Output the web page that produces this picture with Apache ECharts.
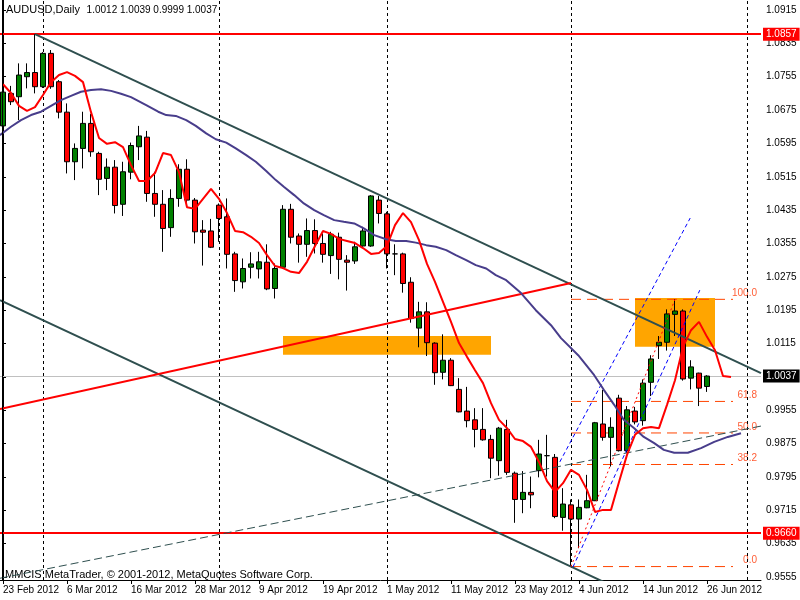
<!DOCTYPE html>
<html><head><meta charset="utf-8">
<script src="https://cdn.jsdelivr.net/npm/echarts@6/dist/echarts.min.js"></script>
<style>html,body{margin:0;padding:0;background:#fff}#c{width:800px;height:600px}</style>
</head><body><div id="c"></div>
<script>
// ---------- DATA ----------
const dates = ['23 Feb 2012','24 Feb 2012','27 Feb 2012','28 Feb 2012','29 Feb 2012',
 '1 Mar 2012','2 Mar 2012','5 Mar 2012','6 Mar 2012','7 Mar 2012','8 Mar 2012','9 Mar 2012','12 Mar 2012','13 Mar 2012','14 Mar 2012','15 Mar 2012','16 Mar 2012','19 Mar 2012','20 Mar 2012','21 Mar 2012','22 Mar 2012','23 Mar 2012','26 Mar 2012','27 Mar 2012','28 Mar 2012','29 Mar 2012','30 Mar 2012',
 '2 Apr 2012','3 Apr 2012','4 Apr 2012','5 Apr 2012','6 Apr 2012','9 Apr 2012','10 Apr 2012','11 Apr 2012','12 Apr 2012','13 Apr 2012','16 Apr 2012','17 Apr 2012','18 Apr 2012','19 Apr 2012','20 Apr 2012','23 Apr 2012','24 Apr 2012','25 Apr 2012','26 Apr 2012','27 Apr 2012','30 Apr 2012',
 '1 May 2012','2 May 2012','3 May 2012','4 May 2012','7 May 2012','8 May 2012','9 May 2012','10 May 2012','11 May 2012','14 May 2012','15 May 2012','16 May 2012','17 May 2012','18 May 2012','21 May 2012','22 May 2012','23 May 2012','24 May 2012','25 May 2012','28 May 2012','29 May 2012','30 May 2012','31 May 2012',
 '1 Jun 2012','4 Jun 2012','5 Jun 2012','6 Jun 2012','7 Jun 2012','8 Jun 2012','11 Jun 2012','12 Jun 2012','13 Jun 2012','14 Jun 2012','15 Jun 2012','18 Jun 2012','19 Jun 2012','20 Jun 2012','21 Jun 2012','22 Jun 2012','25 Jun 2012','26 Jun 2012'];
const opens  = [1.0637,1.0715,1.0707,1.0755,1.0765,1.0731,1.0811,1.0743,1.0670,1.0551,1.0583,1.0643,1.0571,1.0511,1.0538,1.0449,1.0526,1.0587,1.0610,1.0475,1.0449,1.0393,1.0463,1.0533,1.0459,1.0387,1.0385,1.0447,1.0419,1.0330,1.0263,1.0298,1.0294,1.0310,1.0247,1.0298,1.0437,1.0373,1.0353,1.0386,1.0355,1.0326,1.0370,1.0315,1.0313,1.0349,1.0349,1.0459,1.0426,1.0330,1.0330,1.0262,1.0152,1.0191,1.0116,1.0046,1.0075,1.0005,0.9953,0.9932,0.9909,0.9885,0.9834,0.9909,0.9804,0.9741,0.9758,0.9810,0.9846,0.9842,0.9698,0.9728,0.9694,0.9721,0.9738,0.9922,0.9890,0.9984,0.9858,0.9953,0.9930,1.0022,1.0110,1.0118,1.0185,1.0193,1.0032,1.0044,1.0012];
const highs  = [1.0723,1.0733,1.0787,1.0787,1.0857,1.0814,1.0819,1.0747,1.0691,1.0595,1.0671,1.0666,1.0575,1.0559,1.0555,1.0551,1.0597,1.0637,1.0625,1.0527,1.0483,1.0485,1.0545,1.0557,1.0464,1.0411,1.0414,1.0451,1.0463,1.0335,1.0319,1.0334,1.0335,1.0353,1.0307,1.0447,1.0450,1.0379,1.0415,1.0413,1.0379,1.0383,1.0381,1.0327,1.0359,1.0395,1.0471,1.0469,1.0431,1.0353,1.0333,1.0274,1.0215,1.0214,1.0118,1.0137,1.0080,1.0032,1.0011,0.9960,0.9960,0.9896,0.9915,0.9932,0.9808,0.9809,0.9796,0.9884,0.9896,0.9850,0.9768,0.9741,0.9741,0.9800,0.9927,1.0004,0.9938,0.9992,0.9965,0.9963,1.0029,1.0087,1.0133,1.0197,1.0221,1.0197,1.0075,1.0045,1.0039];
const lows   = [1.0598,1.0687,1.0651,1.0727,1.0715,1.0728,1.0726,1.0655,1.0523,1.0507,1.0535,1.0563,1.0471,1.0483,1.0427,1.0421,1.0509,1.0555,1.0455,1.0419,1.0335,1.0371,1.0443,1.0443,1.0355,1.0302,1.0344,1.0359,1.0295,1.0239,1.0247,1.0271,1.0271,1.0243,1.0223,1.0295,1.0355,1.0309,1.0323,1.0331,1.0309,1.0282,1.0269,1.0242,1.0306,1.0347,1.0347,1.0403,1.0295,1.0279,1.0237,1.0165,1.0106,1.0085,1.0016,1.0029,1.0013,0.9950,0.9914,0.9866,0.9882,0.9792,0.9798,0.9800,0.9685,0.9708,0.9720,0.9794,0.9796,0.9696,0.9666,0.9580,0.9624,0.9720,0.9737,0.9882,0.9820,0.9856,0.9853,0.9921,0.9918,0.9989,1.0078,1.0098,1.0133,1.0026,1.0005,0.9965,0.9999];
const closes = [1.0718,1.0695,1.0759,1.0765,1.0731,1.0811,1.0731,1.0670,1.0551,1.0583,1.0643,1.0575,1.0509,1.0538,1.0446,1.0527,1.0590,1.0613,1.0475,1.0449,1.0391,1.0463,1.0533,1.0459,1.0383,1.0382,1.0346,1.0415,1.0329,1.0266,1.0295,1.0306,1.0311,1.0246,1.0295,1.0437,1.0370,1.0353,1.0386,1.0355,1.0329,1.0377,1.0317,1.0310,1.0347,1.0385,1.0469,1.0427,1.0330,1.0330,1.0259,1.0175,1.0191,1.0117,1.0045,1.0075,1.0014,0.9951,0.9930,0.9909,0.9884,0.9840,0.9912,0.9806,0.9741,0.9758,0.9752,0.9850,0.9846,0.9700,0.9730,0.9694,0.9722,0.9738,0.9925,0.9890,0.9914,0.9858,0.9956,0.9927,1.0020,1.0078,1.0118,1.0186,1.0193,1.0030,1.0059,1.0008,1.0037];
// red moving average (shifted forward), one value per bar position 0..91
const redMA = [1.0737,1.0716,1.0685,1.0673,1.0682,1.0711,1.0742,1.0759,1.0766,1.0757,1.0742,1.0670,1.0608,1.0594,1.0598,1.0586,1.0543,1.0505,1.0505,1.0524,1.0572,1.0567,1.0526,1.0442,1.0438,1.0462,1.0486,1.0462,1.0428,1.0385,1.0382,1.0371,1.0356,1.0327,1.0301,1.0296,1.0287,1.0284,1.0311,1.0349,1.0385,1.0378,1.0366,1.0361,1.0356,1.0344,1.0330,1.0332,1.0349,1.0399,1.0428,1.0406,1.0363,1.0306,1.0263,1.0215,1.0167,1.0116,1.0083,1.0051,1.0020,0.9972,0.9932,0.9912,0.9886,0.9881,0.9867,0.9831,0.9785,0.9759,0.9780,0.9812,0.9800,0.9764,0.9711,0.9716,0.9716,0.9783,0.9848,0.9896,0.9912,0.9915,0.9912,0.9968,1.0027,1.0107,1.0147,1.0167,1.0131,1.0099,1.0037,1.0035];
// slow moving average read as [bar position, price]
const slowMA = [[-0.4,1.0615],[1,1.0635],[2.25,1.0651],[3.5,1.0663],[4.75,1.0671],[6,1.0685],[7.25,1.0699],[8.5,1.0709],[9.75,1.0719],[11,1.0723],[12.25,1.0725],[13.5,1.0721],[14.75,1.0714],[16,1.0706],[17.9,1.0687],[19.4,1.0671],[20.4,1.0663],[21.6,1.0661],[22.9,1.0651],[24.1,1.0637],[25.4,1.0619],[26.6,1.0605],[27.9,1.0597],[29.1,1.0583],[30.4,1.0567],[31.6,1.0551],[32.9,1.0529],[34.1,1.0507],[35.1,1.0491],[36.4,1.0471],[37.6,1.0451],[38.9,1.0435],[40.1,1.0423],[41.4,1.0411],[42.6,1.0407],[43.9,1.0403],[45.1,1.0391],[46.4,1.0375],[47.9,1.0365],[49.1,1.0361],[50.4,1.0361],[51.6,1.0357],[52.9,1.0351],[54.1,1.0347],[55.4,1.0339],[56.6,1.0327],[57.9,1.0315],[59.1,1.0303],[60.4,1.0295],[61.6,1.0279],[62.9,1.0267],[64.75,1.0236],[66.6,1.0195],[68.5,1.0159],[69.75,1.0128],[71.9,1.0087],[73.9,1.0039],[75.1,1.0004],[76.4,0.9968],[77.6,0.9932],[78.9,0.9912],[80.1,0.9891],[81.4,0.9876],[82.6,0.9860],[83.9,0.9853],[85.6,0.9853],[87.25,0.9864],[88.9,0.9879],[90.6,0.9891],[92.25,0.9900]];
const priceTicks = [0.9555,0.9635,0.9715,0.9795,0.9875,0.9955,1.0035,1.0115,1.0195,1.0275,1.0355,1.0435,1.0515,1.0595,1.0675,1.0755,1.0835,1.0915];
const dateTickIdx = [0,8,16,24,32,40,48,56,64,72,80,88];
const monthSeparators = [5,27,48,71,93];
const hLevels = [{value:1.0857,color:'#ff0000',label:'1.0857'},{value:0.9660,color:'#ff0000',label:'0.9660'}];
const lastPrice = 1.0037;
// trend lines: [[x1,y1],[x2,y2]]
const channelUpper = [[4,1.0857],[94.75,1.0044]];
const channelLower = [[-0.375,1.0219],[71,0.9580],[80,0.9499]];
const dashedSupport = [[-0.375,0.9552],[94.75,0.9917]];
const redTrend = [[-0.375,0.9958],[71,1.0260]];
const blueLine1 = [[69.6,0.9831],[85.9,1.0416]];
const blueLine2 = [[71.25,0.9579],[87.1,1.0243]];
// fibonacci retracement
const fibLow = [71,0.9580], fibHigh = [84,1.0221], fibEnd = 91.25;
const fibLevels = [0,38.2,50,61.8,100];
// rectangles: [x1,x2,priceTop,priceBottom]
const boxes = [[35,61,1.0133,1.0088],[79,89,1.0224,1.0107]];
const titleSymbol = 'AUDUSD,Daily';
const titleOHLC = ['1.0012','1.0039','0.9999','1.0037'];
const footerText = 'MMCIS MetaTrader, \u00a9 2001-2012, MetaQuotes Software Corp.';

// ---------- CHART ----------
const FONT = "'Liberation Sans',sans-serif";
const candleData = opens.map((o,i)=>[i,o,closes[i],lows[i],highs[i]]);
const fibRange = fibHigh[1]-fibLow[1];
const fibSeries = fibLevels.map(l=>({
  type:'line', silent:true, symbol:'none', z:3,
  data:[[fibLow[0],fibLow[1]+fibRange*l/100],[fibEnd,fibLow[1]+fibRange*l/100]],
  lineStyle:{color:'#ff4500',width:1,type:[10,6]}
}));
const fibLabels = {
  type:'scatter', silent:true, symbolSize:0, z:4,
  data: fibLevels.map(l=>({value:[94.25,fibLow[1]+fibRange*l/100], name:l.toFixed(1)})),
  label:{show:true,position:'left',distance:0,offset:[0,-6],formatter:p=>p.name,color:'#ff3300',fontFamily:FONT,fontSize:10}
};
function tline(data,color,width,type,z){return {type:'line',silent:true,symbol:'none',data,z:z||3,lineStyle:{color,width,type:type||'solid'}};}

const chart = echarts.init(document.getElementById('c'),null,{renderer:'canvas'});
chart.setOption({
  animation:false,
  backgroundColor:'#ffffff',
  grid:{left:0,top:0,width:761,height:580,containLabel:false},
  xAxis:{type:'value',min:-0.375,max:94.75,
    axisLine:{show:true,onZero:false,lineStyle:{color:'#000',width:1}},
    splitLine:{show:false},
    axisTick:{show:true,length:4,customValues:dateTickIdx,lineStyle:{color:'#000'}},
    axisLabel:{customValues:dateTickIdx,formatter:v=>dates[Math.round(v)]||'',align:'left',margin:5,color:'#000',fontFamily:FONT,fontSize:10}
  },
  yAxis:{type:'value',position:'right',min:0.95478,max:1.0939,
    axisLine:{show:true,lineStyle:{color:'#000',width:1}},
    splitLine:{show:false},
    axisTick:{show:true,length:3,customValues:priceTicks,lineStyle:{color:'#000'}},
    axisLabel:{customValues:priceTicks,formatter:v=>v.toFixed(4),margin:5,color:'#000',fontFamily:FONT,fontSize:10}
  },
  graphic:[
    {type:'text',left:6,top:4,style:{
      text:'{s|'+titleSymbol+'}  {n|'+titleOHLC.join(' ')+'}',
      rich:{s:{fontFamily:FONT,fontSize:11,fill:'#000'},n:{fontFamily:FONT,fontSize:10,fill:'#000'}}}},
    {type:'text',left:5,top:569,style:{text:footerText,fill:'#000',font:'11px '+FONT}},
    {type:'line',shape:{x1:2.5,y1:0,x2:2.5,y2:580},style:{stroke:'#000',lineWidth:1},z:10}
  ],
  series:[
    {type:'line',data:[],silent:true,z:1,
      markArea:{silent:true,itemStyle:{color:'#ffa500'},data:boxes.map(b=>[{coord:[b[0],b[2]]},{coord:[b[1],b[3]]}])}},
    {type:'line',data:[],silent:true,z:2,
      markLine:{silent:true,symbol:['none','none'],label:{show:false},precision:4,
        lineStyle:{color:'#000',width:1,type:[3,3]},
        data:monthSeparators.map(x=>({xAxis:x}))}},
    {type:'line',data:[],silent:true,z:2,
      markLine:{silent:true,symbol:['none','none'],precision:4,
        data:[{yAxis:lastPrice,lineStyle:{color:'#c0c0c0',width:1,type:'solid'},
               label:{show:true,position:'end',distance:2,formatter:lastPrice.toFixed(4),color:'#fff',backgroundColor:'#000',padding:[2,3,1,3],fontFamily:FONT,fontSize:10}}]}},
    {type:'candlestick',z:5,barWidth:5,encode:{x:0,y:[1,2,3,4]},data:candleData,
      itemStyle:{color:'#008000',color0:'#ff0000',borderColor:'#000',borderColor0:'#000',borderColorDoji:'#000',borderWidth:1}},
    {type:'line',data:[],silent:true,z:6,
      markLine:{silent:true,symbol:['none','none'],precision:4,
        data:hLevels.map(h=>({yAxis:h.value,lineStyle:{color:h.color,width:2,type:'solid'},
          label:{show:true,position:'end',distance:2,formatter:h.label,color:'#fff',backgroundColor:h.color,padding:[2,3,1,3],fontFamily:FONT,fontSize:10}}))}},
    tline(channelUpper,'#2f4f4f',2,'solid',6),
    tline(channelLower,'#2f4f4f',2,'solid',6),
    tline(dashedSupport,'#2f4f4f',1,[8,4],6),
    tline(redTrend,'#ff0000',2,'solid',6),
    tline(blueLine1,'#0000ff',1,[4,3],6),
    tline(blueLine2,'#0000ff',1,[4,3],6),
    tline([fibLow,fibHigh],'#ff0000',1,[2,3],6),
    ...fibSeries,
    fibLabels,
    {type:'line',silent:true,symbol:'none',z:7,data:slowMA,lineStyle:{color:'#483d8b',width:2}},
    {type:'line',silent:true,symbol:'none',z:7,data:redMA.map((v,i)=>[i,v]),lineStyle:{color:'#ff0000',width:2}}
  ]
});
</script></body></html>
